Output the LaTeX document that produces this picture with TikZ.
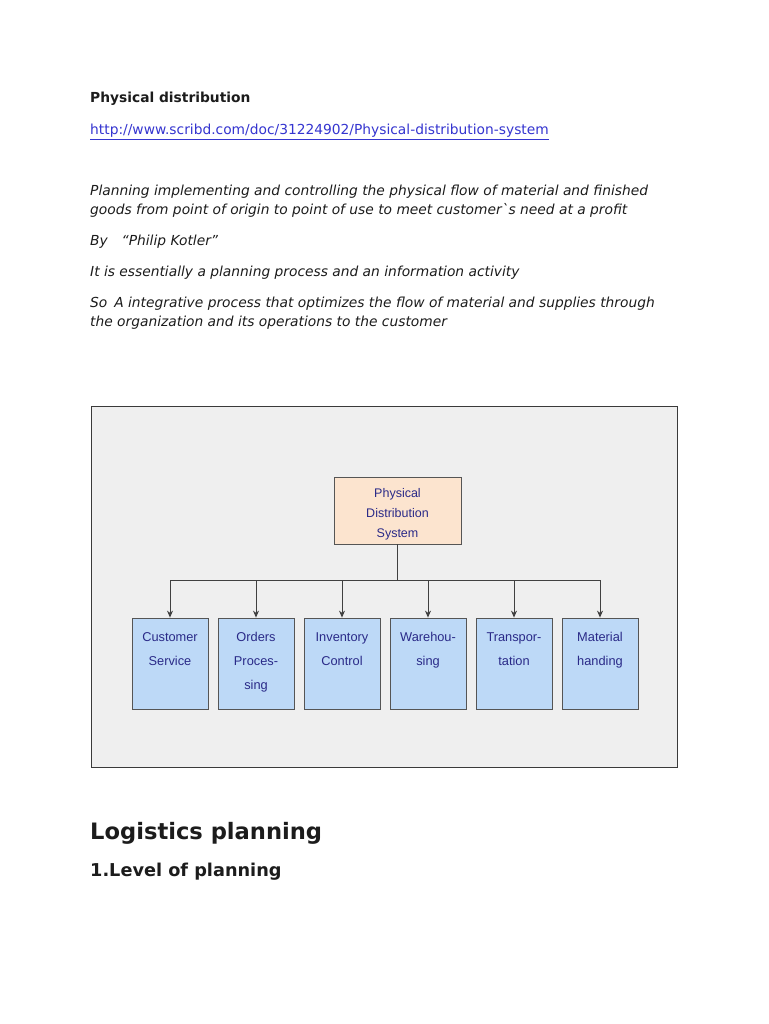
\documentclass[tikz,border=0pt]{standalone}
\usepackage{fontspec}
\setmainfont{DejaVu Sans}
\newfontfamily\diafont{Liberation Sans}
\usetikzlibrary{arrows.meta}
\definecolor{bodytxt}{HTML}{1C1C1C}
\definecolor{linkblue}{HTML}{3535D0}
\definecolor{framebg}{HTML}{EFEFEF}
\definecolor{framedraw}{HTML}{3A3A3A}
\definecolor{peach}{HTML}{FCE4CF}
\definecolor{lightblue}{HTML}{BDD9F7}
\definecolor{boxdraw}{HTML}{555555}
\definecolor{diatxt}{HTML}{2A2A88}
\begin{document}
\begin{tikzpicture}[x=1pt,y=-1pt,
  body/.style={anchor=base west, inner sep=0pt, text=bodytxt, font=\fontsize{13.8}{16}\selectfont},
  bodyit/.style={body, font=\fontsize{13.8}{16}\selectfont\itshape},
  topbox/.style={draw=boxdraw, fill=peach, line width=0.8pt, minimum width=127pt, minimum height=67pt, inner sep=0pt},
  subbox/.style={draw=boxdraw, fill=lightblue, line width=0.8pt, minimum width=76pt, minimum height=91pt, inner sep=0pt},
  lbl/.style={inner sep=0pt, align=center, text=diatxt, font=\diafont\fontsize{12.8}{24}\selectfont},
  conn/.style={draw=black!75, line width=0.9pt},
  arr/.style={conn, -{Stealth[length=7pt,width=6pt]}}
]
\useasboundingbox (0,0) rectangle (768,1024);
\fill[white] (0,0) rectangle (768,1024);

% text above the diagram
\node[body, font=\fontsize{13.8}{16}\selectfont\bfseries] (t1) at (90,102.5) {Physical distribution};
\node[body, text=linkblue] (t2) at (90,134.5) {\underline{http://www.scribd.com/doc/31224902/Physical-distribution-system}};
\node[bodyit] (t3a) at (90,195.5) {Planning implementing and controlling the physical flow of material and finished};
\node[bodyit] (t3b) at (90,214.5) {goods from point of origin to point of use to meet customer\textasciigrave s need at a profit};
\node[bodyit] (t4) at (90,245.5) {By\quad “Philip Kotler”};
\node[bodyit] (t5) at (90,276.5) {It is essentially a planning process and an information activity};
\node[bodyit] (t6a) at (90,307.5) {So\enspace A integrative process that optimizes the flow of material and supplies through};
\node[bodyit] (t6b) at (90,326.5) {the organization and its operations to the customer};

% diagram frame
\node[draw=framedraw, fill=framebg, line width=0.8pt, minimum width=586pt, minimum height=361pt, inner sep=0pt, anchor=north west] (frame) at (91,406) {};

\node[topbox] (pds) at (397.5,510.5) {};
\node[lbl, font=\diafont\fontsize{12.5}{20}\selectfont] (pds-t) at ([yshift=-4pt]pds.center) {Physical\\Distribution\\System};

\node[subbox] (cs) at (170,663.5) {};
\node[subbox] (op) at (256,663.5) {};
\node[subbox] (ic) at (342,663.5) {};
\node[subbox] (wh) at (428,663.5) {};
\node[subbox] (tr) at (514,663.5) {};
\node[subbox] (mh) at (600,663.5) {};

\node[lbl, anchor=north] (cs-t) at ([yshift=-14.5pt]cs.north) {Customer\\Service};
\node[lbl, anchor=north] (op-t) at ([yshift=-14.5pt]op.north) {Orders\\Proces-\\sing};
\node[lbl, anchor=north] (ic-t) at ([yshift=-14.5pt]ic.north) {Inventory\\Control};
\node[lbl, anchor=north] (wh-t) at ([yshift=-14.5pt]wh.north) {Warehou-\\sing};
\node[lbl, anchor=north] (tr-t) at ([yshift=-14.5pt]tr.north) {Transpor-\\tation};
\node[lbl, anchor=north] (mh-t) at ([yshift=-14.5pt]mh.north) {Material\\handing};

\coordinate (bus) at (397.5,580);
\draw[conn] (pds.south) -- (bus);
\draw[conn] (cs.north |- bus) -- (mh.north |- bus);
\foreach \b in {cs,op,ic,wh,tr,mh}{
  \draw[arr] (\b.north |- bus) -- (\b.north);
}

% headings below
\node[body, font=\fontsize{22.6}{26}\selectfont\bfseries] (h1) at (90,839) {Logistics planning};
\node[body, font=\fontsize{17.7}{21}\selectfont\bfseries] (h2) at (90,876.5) {1.Level of planning};
\end{tikzpicture}
\end{document}
